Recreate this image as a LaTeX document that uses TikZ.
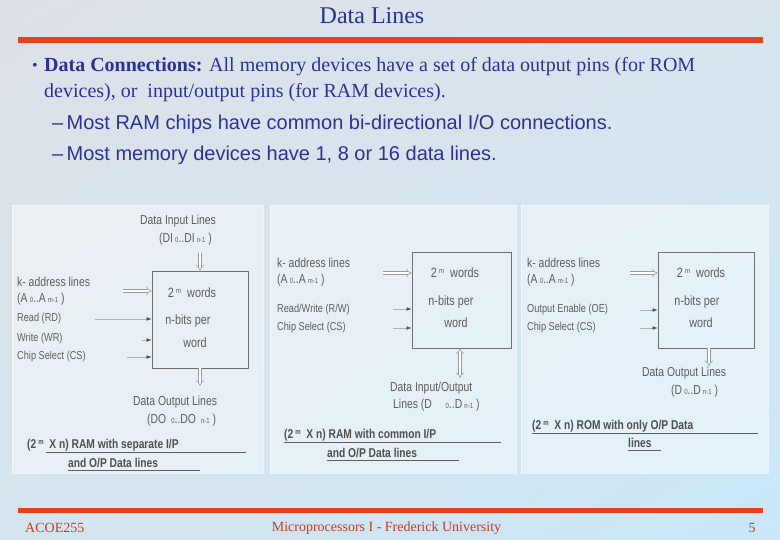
\documentclass[tikz,border=0pt]{standalone}
\usepackage{fontspec}
\setmainfont{Liberation Serif}
\newfontfamily\arialfont{Liberation Sans}
\newfontfamily\narrowfont[FakeStretch=0.8]{Liberation Sans}
\usetikzlibrary{arrows.meta,shadings}
\definecolor{navy}{HTML}{2E3192}
\definecolor{orangeline}{HTML}{E8401C}
\definecolor{footred}{HTML}{C23B22}
\definecolor{txtgray}{HTML}{5E5E5E}
\definecolor{boxgray}{HTML}{707070}
\definecolor{bgA}{HTML}{DDE1E7}
\definecolor{bgB}{HTML}{D8E5EF}
\definecolor{bgC}{HTML}{D5E5EF}
\definecolor{bgD}{HTML}{CAE7F8}
\newcommand{\lsub}[1]{\,{\fontsize{7.5}{8}\selectfont #1}}
\newcommand{\hsup}[1]{\,\raisebox{4pt}{\fontsize{7.5}{8}\selectfont #1}}
\tikzset{
  panel/.style={fill=white, fill opacity=0.45, draw=white, draw opacity=0.6, line width=0.6},
  membox/.style={draw=boxgray, line width=0.7, fill=none, inner sep=0},
  lbl/.style={font=\narrowfont\fontsize{13}{15}\selectfont, text=txtgray, inner sep=0, anchor=west},
  slbl/.style={font=\narrowfont\fontsize{11.5}{13}\selectfont, text=txtgray, inner sep=0, anchor=west},
  inl/.style={font=\narrowfont\fontsize{13.5}{15}\selectfont, text=txtgray, inner sep=0},
  captext/.style={font=\narrowfont\bfseries\fontsize{12.8}{15}\selectfont, text=txtgray!85!black, inner sep=0, anchor=west},
  capline/.style={draw=txtgray, line width=0.5},
  dbl/.style={draw=gray!80, double=white, double distance=2.4pt, line width=0.5, -{Implies}},
  bidbl/.style={draw=gray!80, double=white, double distance=2.4pt, line width=0.5, {Implies}-{Implies}},
  sig/.style={draw=gray!60, line width=0.5, -{Latex[length=5pt,width=3.5pt,color=black!70]}},
}
\begin{document}
\begin{tikzpicture}[x=1pt,y=-1pt]
\useasboundingbox (0,0) rectangle (780,540);
\shade[upper left=bgA, upper right=bgB, lower left=bgC, lower right=bgD] (0,0) rectangle (780,540);

% header
\node[font=\fontsize{24}{28}\selectfont, text=navy, inner sep=0] (title) at (372,16) {Data Lines};
\draw[orangeline, line width=6] (18,40) -- (763,40);
\node[font=\fontsize{16}{20}\selectfont, text=navy, inner sep=0, anchor=west] (bul) at (32,67) {•};
\node[font=\fontsize{20}{22}\selectfont, text=navy, inner sep=0, anchor=west] (l1) at (44,67) {\textbf{Data Connections:} All memory devices have a set of data output pins (for ROM};
\node[font=\fontsize{20}{22}\selectfont, text=navy, inner sep=0, anchor=west] (l2) at (44,93) {devices), or\ \ input/output pins (for RAM devices).};
\node[font=\arialfont\fontsize{20}{22}\selectfont, text=navy, inner sep=0, anchor=west] (s1) at (52,124) {–\,Most RAM chips have common bi-directional I/O connections.};
\node[font=\arialfont\fontsize{20}{22}\selectfont, text=navy, inner sep=0, anchor=west] (s2) at (52,155) {–\,Most memory devices have 1, 8 or 16 data lines.};

% panels
\path[panel] (12,205) rectangle (263,473);
\path[panel] (270,205) rectangle (516,473);
\path[panel] (521,205) rectangle (768,473);

% ---------- panel 1 ----------
\node[membox, minimum width=96, minimum height=97] (m1) at (200,319.5) {};
\node[inl] (m1a) at (192,293) {2\hsup{m}\ \ words};
\node[inl] (m1b) at (188,321) {n-bits per};
\node[inl] (m1c) at (195,343) {word};
\node[lbl] (p1in) at (140,221) {Data Input Lines};
\node[lbl] (p1inb) at (159,239) {(DI\lsub{0}..DI\lsub{n-1} )};
\node[lbl] (p1k) at (17,282) {k- address lines};
\node[lbl] (p1a) at (17,299) {(A\lsub{0}..A\lsub{m-1} )};
\node[slbl] (p1rd) at (17,319) {Read (RD)};
\node[slbl] (p1wr) at (17,339) {Write (WR)};
\node[slbl] (p1cs) at (17,357) {Chip Select (CS)};
\node[lbl] (p1out) at (133,402) {Data Output Lines};
\node[lbl] (p1outb) at (147,420) {(DO\ \lsub{0}..DO\ \lsub{n-1} )};
\node[captext] (p1c1) at (27,445) {(2\hsup{m}\ \ X n) RAM with separate I/P};
\node[captext] (p1c2) at (68,463) {and O/P Data lines};
\coordinate (p1ins) at (200,253);
\coordinate (p1as) at (123,291);
\coordinate (p1rs) at (95,319);
\coordinate (p1ws) at (142,340);
\coordinate (p1cs0) at (127,357);
\coordinate (p1oe) at (200,386);
\draw[dbl] (p1ins) -- (m1.north);
\draw[dbl] (p1as) -- (p1as -| m1.west);
\draw[sig] (p1rs) -- (p1rs -| m1.west);
\draw[sig] (p1ws) -- (p1ws -| m1.west);
\draw[sig] (p1cs0) -- (p1cs0 -| m1.west);
\draw[dbl] (m1.south) -- (p1oe);
\coordinate (u1a) at (46,452); \coordinate (u1b) at (246,452);
\coordinate (u1c) at (68,470); \coordinate (u1d) at (200,470);
\draw[capline] (u1a) -- (u1b);
\draw[capline] (u1c) -- (u1d);

% ---------- panel 2 ----------
\node[membox, minimum width=99, minimum height=96] (m2) at (461.5,300) {};
\node[inl] (m2a) at (455,273) {2\hsup{m}\ \ words};
\node[inl] (m2b) at (451,302) {n-bits per};
\node[inl] (m2c) at (456,323) {word};
\node[lbl] (p2k) at (277,263) {k- address lines};
\node[lbl] (p2a) at (277,280) {(A\lsub{0}..A\lsub{m-1} )};
\node[slbl] (p2rw) at (277,310) {Read/Write (R/W)};
\node[slbl] (p2cs) at (277,328) {Chip Select (CS)};
\node[lbl] (p2io) at (390,388) {Data Input/Output};
\node[lbl] (p2iob) at (393,405) {Lines\ (D\ \ \ \ \lsub{0}..D\lsub{n-1} )};
\node[captext] (p2c1) at (284,435) {(2\hsup{m}\ \ X n) RAM with common I/P};
\node[captext] (p2c2) at (327,453) {and O/P Data lines};
\coordinate (p2as) at (383,273);
\coordinate (p2rs) at (393,309);
\coordinate (p2cs0) at (393,328);
\coordinate (p2io0) at (460,378);
\draw[dbl] (p2as) -- (p2as -| m2.west);
\draw[sig] (p2rs) -- (p2rs -| m2.west);
\draw[sig] (p2cs0) -- (p2cs0 -| m2.west);
\draw[bidbl] (p2io0 |- m2.south) -- (p2io0);
\coordinate (u2a) at (284,442); \coordinate (u2b) at (501,442);
\coordinate (u2c) at (327,460); \coordinate (u2d) at (459,460);
\draw[capline] (u2a) -- (u2b);
\draw[capline] (u2c) -- (u2d);

% ---------- panel 3 ----------
\node[membox, minimum width=96, minimum height=96] (m3) at (706,300) {};
\node[inl] (m3a) at (701,273) {2\hsup{m}\ \ words};
\node[inl] (m3b) at (697,302) {n-bits per};
\node[inl] (m3c) at (701,323) {word};
\node[lbl] (p3k) at (527,263) {k- address lines};
\node[lbl] (p3a) at (527,280) {(A\lsub{0}..A\lsub{m-1} )};
\node[slbl] (p3oe) at (527,310) {Output Enable (OE)};
\node[slbl] (p3cs) at (527,328) {Chip Select (CS)};
\node[lbl] (p3out) at (642,373) {Data Output Lines};
\node[lbl] (p3outb) at (671,391) {(D\lsub{0}..D\lsub{n-1} )};
\node[captext] (p3c1) at (532,426) {(2\hsup{m}\ \ X n) ROM with only O/P Data};
\node[captext] (p3c2) at (628,443) {lines};
\coordinate (p3as) at (630,273);
\coordinate (p3os) at (640,310);
\coordinate (p3cs0) at (640,328);
\coordinate (p3oe0) at (709,366);
\draw[dbl] (p3as) -- (p3as -| m3.west);
\draw[sig] (p3os) -- (p3os -| m3.west);
\draw[sig] (p3cs0) -- (p3cs0 -| m3.west);
\draw[dbl] (p3oe0 |- m3.south) -- (p3oe0);
\coordinate (u3a) at (532,433); \coordinate (u3b) at (758,433);
\coordinate (u3c) at (628,450); \coordinate (u3d) at (661,450);
\draw[capline] (u3a) -- (u3b);
\draw[capline] (u3c) -- (u3d);

% footer
\draw[orangeline, line width=5] (18,510) -- (763,510);
\node[font=\fontsize{14}{16}\selectfont, text=footred, inner sep=0, anchor=west] (f1) at (25,528) {ACOE255};
\node[font=\fontsize{14}{16}\selectfont, text=footred, inner sep=0] (f2) at (386.5,528) {Microprocessors I - Frederick University};
\node[font=\fontsize{14}{16}\selectfont, text=footred, inner sep=0] (f3) at (752,528) {5};
\end{tikzpicture}
\end{document}
